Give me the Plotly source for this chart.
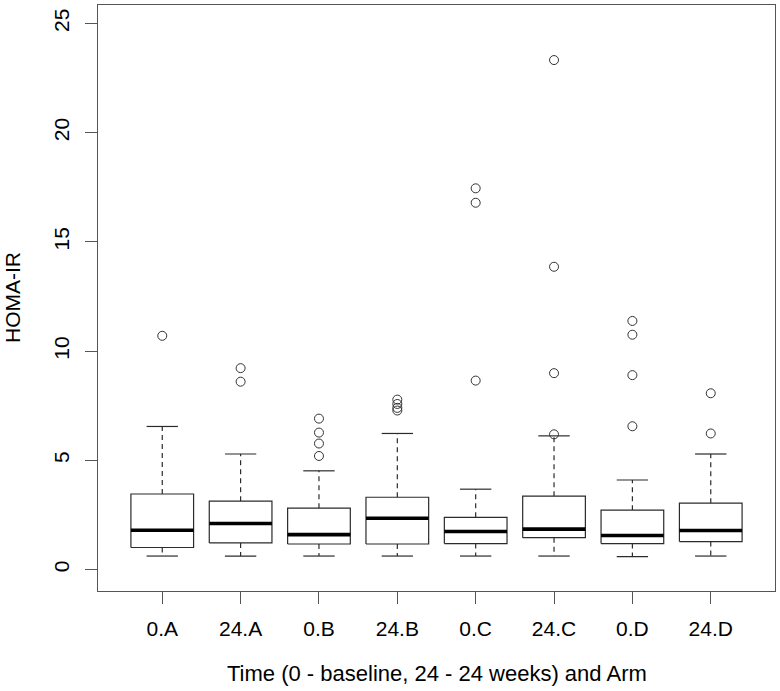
import plotly.graph_objects as go

labels = ["0.A", "24.A", "0.B", "24.B", "0.C", "24.C", "0.D", "24.D"]
lower_whisker = [0.62, 0.62, 0.62, 0.62, 0.62, 0.62, 0.59, 0.62]
q1 = [1.01, 1.22, 1.17, 1.17, 1.19, 1.46, 1.19, 1.28]
median = [1.80, 2.11, 1.60, 2.35, 1.74, 1.85, 1.56, 1.79]
q3 = [3.46, 3.13, 2.81, 3.31, 2.39, 3.36, 2.72, 3.04]
upper_whisker = [6.55, 5.29, 4.52, 6.23, 3.68, 6.12, 4.10, 5.29]
outliers = [
    [10.70],
    [8.60, 9.22],
    [5.20, 5.77, 6.27, 6.91],
    [7.28, 7.40, 7.58, 7.78],
    [8.65, 16.79, 17.45],
    [6.19, 8.99, 13.86, 23.32],
    [6.56, 8.90, 10.75, 11.38],
    [6.23, 8.07],
]
y_ticks = [0, 5, 10, 15, 20, 25]

HALF_BOX = 0.4
HALF_CAP = 0.2
FONT = "Liberation Sans, Arial, sans-serif"
BOX_COLOR = "#2b2b2b"

pos = list(range(1, len(labels) + 1))

box_x, box_y = [], []
med_x, med_y = [], []
wh_x, wh_y = [], []
cap_x, cap_y = [], []
out_x, out_y = [], []
for i, p in enumerate(pos):
    box_x += [p - HALF_BOX, p + HALF_BOX, p + HALF_BOX, p - HALF_BOX, p - HALF_BOX, None]
    box_y += [q1[i], q1[i], q3[i], q3[i], q1[i], None]
    med_x += [p - HALF_BOX, p + HALF_BOX, None]
    med_y += [median[i], median[i], None]
    wh_x += [p, p, None, p, p, None]
    wh_y += [q3[i], upper_whisker[i], None, q1[i], lower_whisker[i], None]
    cap_x += [p - HALF_CAP, p + HALF_CAP, None, p - HALF_CAP, p + HALF_CAP, None]
    cap_y += [upper_whisker[i], upper_whisker[i], None, lower_whisker[i], lower_whisker[i], None]
    for v in outliers[i]:
        out_x.append(p)
        out_y.append(v)

fig = go.Figure()
fig.add_trace(go.Scatter(x=wh_x, y=wh_y, mode="lines",
                         line=dict(color=BOX_COLOR, width=1.2, dash="5px,4px"),
                         hoverinfo="skip", showlegend=False))
fig.add_trace(go.Scatter(x=cap_x, y=cap_y, mode="lines",
                         line=dict(color=BOX_COLOR, width=1.2),
                         hoverinfo="skip", showlegend=False))
fig.add_trace(go.Scatter(x=box_x, y=box_y, mode="lines",
                         line=dict(color=BOX_COLOR, width=1.2),
                         fill="toself", fillcolor="white",
                         hoverinfo="skip", showlegend=False))
fig.add_trace(go.Scatter(x=med_x, y=med_y, mode="lines",
                         line=dict(color="black", width=3.6),
                         hoverinfo="skip", showlegend=False))
fig.add_trace(go.Scatter(x=out_x, y=out_y, mode="markers",
                         marker=dict(symbol="circle-open", size=9,
                                     color="#333333", line=dict(width=1)),
                         hoverinfo="skip", showlegend=False))

fig.update_layout(
    template="none",
    width=780, height=691,
    margin=dict(l=98, r=5, t=5, b=100, autoexpand=False),
    paper_bgcolor="white", plot_bgcolor="white",
    font=dict(family=FONT, size=21, color="black"),
    xaxis=dict(range=[0.18, 8.82], tickvals=pos, ticktext=labels,
               automargin=False,
               showgrid=False, zeroline=False,
               showline=True, mirror=True, linecolor="#555555", linewidth=1.2,
               ticks="outside", ticklen=12, tickcolor="#555555", tickwidth=1.2,
               ticklabelstandoff=7,
               tickfont=dict(family=FONT, size=21, color="black")),
    yaxis=dict(range=[-0.98, 25.84], tickvals=y_ticks,
               automargin=False,
               showgrid=False, zeroline=False,
               showline=True, mirror=True, linecolor="#555555", linewidth=1.2,
               ticks="outside", ticklen=12, tickcolor="#555555", tickwidth=1.2,
               tickangle=-90, ticklabelstandoff=8,
               tickfont=dict(family=FONT, size=21, color="black")),
    annotations=[
        dict(text="Time (0 - baseline, 24 - 24 weeks) and Arm",
             xref="paper", yref="paper", x=0.5, y=-(673 - 591) / 586,
             xanchor="center", yanchor="middle", showarrow=False,
             font=dict(family=FONT, size=22, color="black")),
        dict(text="HOMA-IR", textangle=-90,
             xref="paper", yref="paper", x=-(86 / 677), y=0.5,
             xanchor="center", yanchor="middle", showarrow=False,
             font=dict(family=FONT, size=21, color="black")),
    ],
)

fig.write_html(
    "out.html",
    config={"displayModeBar": False},
    post_script="document.body.style.margin='0';document.body.style.overflow='hidden';",
)
